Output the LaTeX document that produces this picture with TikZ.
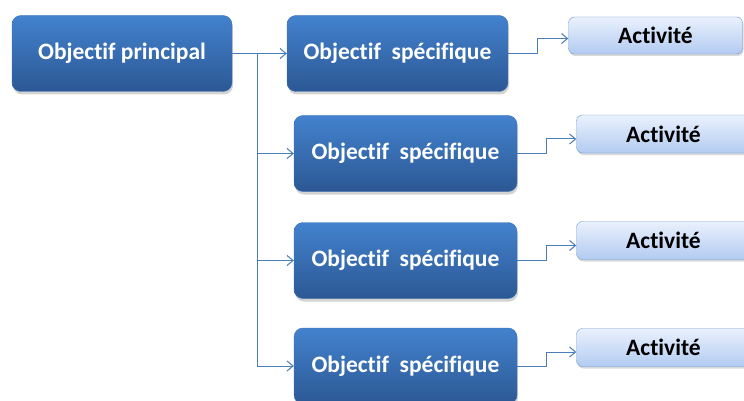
\documentclass[tikz,border=0pt]{standalone}
\usepackage{fontspec}
\setmainfont[Ligatures=NoCommon]{Carlito}
\usetikzlibrary{arrows.meta, shadows}

\definecolor{boxtop}{HTML}{4382CE}
\definecolor{boxbot}{HTML}{2C5894}
\definecolor{boxline}{HTML}{3A70B5}
\definecolor{acttop}{HTML}{EAF1FD}
\definecolor{actbot}{HTML}{B2CBF1}
\definecolor{actline}{HTML}{6C97D3}
\definecolor{linkblue}{HTML}{4A7EBB}

\begin{document}
\begin{tikzpicture}[x=1pt,y=-1pt,>={Straight Barb[length=6pt,width=10pt]},
    goal/.style={rectangle, rounded corners=9pt, draw=boxline, top color=boxtop, bottom color=boxbot,
      text=white, font=\fontsize{23.5}{28}\selectfont\bfseries, minimum height=76pt,
      drop shadow={shadow xshift=1pt, shadow yshift=-3pt, opacity=0.35}},
    task/.style={rectangle, rounded corners=6pt, draw=actline, top color=acttop, bottom color=actbot,
      text=black, font=\fontsize{23.5}{28}\selectfont\bfseries, minimum width=174pt, minimum height=38pt,
      drop shadow={shadow xshift=1pt, shadow yshift=-2pt, opacity=0.3}},
    link/.style={draw=linkblue, line width=1pt}]
      \useasboundingbox (0,0) rectangle (744,401);
      \node[goal, minimum width=220pt] (P)  at (122,53.5)   {Objectif principal};
      \node[goal, minimum width=221pt] (S1) at (397.5,53.5) {Objectif\ \ spécifique};
      \node[goal, minimum width=223pt] (S2) at (405.5,153.5) {Objectif\ \ spécifique};
      \node[goal, minimum width=223pt] (S3) at (405.5,260.5) {Objectif\ \ spécifique};
      \node[goal, minimum width=223pt] (S4) at (405.5,366)   {Objectif\ \ spécifique};
      \node[task, minimum height=37pt] (A1) at (655.5,35.5) {Activité};
      \node[task]                      (A2) at (663.5,134)   {Activité};
      \node[task]                      (A3) at (663.5,240.5) {Activité};
      \node[task]                      (A4) at (663.5,347.5) {Activité};
      % objectifs
      \draw[->, link] (P.east) -- ++(25,0) coordinate (fork) -- (S1.west);
      \draw[->, link] (fork) |- (S2.west);
      \draw[->, link] (fork) |- (S3.west);
      \draw[->, link] (fork) |- (S4.west);
      % activites
      \draw[->, link] (S1.east) -- ++(29,0) |- ([yshift=-3pt]A1.west);
      \draw[->, link] (S2.east) -- ++(29,0) |- ([yshift=-5pt]A2.west);
      \draw[->, link] (S3.east) -- ++(29,0) |- ([yshift=-5pt]A3.west);
      \draw[->, link] (S4.east) -- ++(29,0) |- ([yshift=-4.5pt]A4.west);
\end{tikzpicture}
\end{document}
